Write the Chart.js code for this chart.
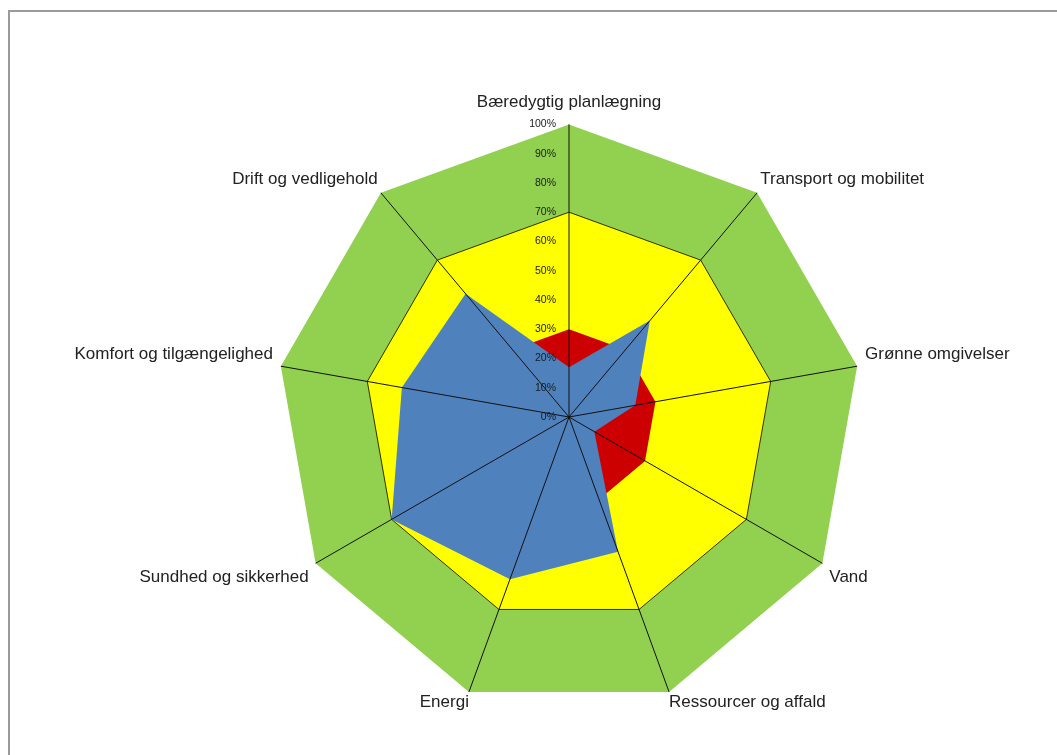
<!DOCTYPE html>
<html>
<head>
<meta charset="utf-8">
<script src="https://cdn.jsdelivr.net/npm/chart.js@4.4.0/dist/chart.umd.min.js"></script>
<style>
  html, body { margin: 0; padding: 0; background: #fff; overflow: hidden; width: 1057px; height: 755px; }
  #frame { position: absolute; left: 8px; top: 10px; width: 1200px; height: 900px; border: 2px solid #9a9a9a; box-sizing: border-box; }
  #wrap { position: absolute; left: 0; top: 0; width: 1138px; height: 755px; }
</style>
</head>
<body>
<div id="frame"></div>
<div id="wrap"><canvas id="c" width="1138" height="755"></canvas></div>
<script>
const categories = [
  "Bæredygtig planlægning",
  "Transport og mobilitet",
  "Grønne omgivelser",
  "Vand",
  "Ressourcer og affald",
  "Energi",
  "Sundhed og sikkerhed",
  "Komfort og tilgængelighed",
  "Drift og vedligehold"
];
const outerLevel = [100, 100, 100, 100, 100, 100, 100, 100, 100];
const middleLevel = [70, 70, 70, 70, 70, 70, 70, 70, 70];
const innerLevel = [30, 30, 30, 30, 30, 30, 30, 30, 30];
const scoreValues = [17, 43, 23, 10, 49, 59, 70, 58, 55];
const tickValues = [0, 10, 20, 30, 40, 50, 60, 70, 80, 90, 100];
const tickLabels = ["0%", "10%", "20%", "30%", "40%", "50%", "60%", "70%", "80%", "90%", "100%"];

const labelPadding = [12, 5, 8, 8, 0, 0, 8, 8, 5];

const tickPlugin = {
  id: 'leftTicks',
  afterDraw(chart) {
    const s = chart.scales.r;
    const ctx = chart.ctx;
    ctx.save();
    ctx.font = '10.5px "Liberation Sans", Arial, sans-serif';
    ctx.fillStyle = '#1a1a1a';
    ctx.textAlign = 'right';
    ctx.textBaseline = 'middle';
    tickValues.forEach((v, i) => {
      const d = s.getDistanceFromCenterForValue(v);
      ctx.fillText(tickLabels[i], s.xCenter - 13, s.yCenter - d);
    });
    ctx.restore();
  }
};

new Chart(document.getElementById('c'), {
  type: 'radar',
  data: {
    labels: categories,
    datasets: [
      { label: 'Grøn', data: outerLevel, order: 4, fill: 'origin', backgroundColor: '#92D050', borderColor: 'rgba(0,0,0,0)', borderWidth: 0, pointRadius: 0 },
      { label: 'Gul', data: middleLevel, order: 3, fill: 'origin', backgroundColor: '#FFFF00', borderColor: '#333300', borderWidth: 1, pointRadius: 0 },
      { label: 'Rød', data: innerLevel, order: 2, fill: 'origin', backgroundColor: '#CC0000', borderColor: 'rgba(0,0,0,0)', borderWidth: 0, pointRadius: 0 },
      { label: 'Score', data: scoreValues, order: 1, fill: 'origin', backgroundColor: '#4F81BD', borderColor: 'rgba(0,0,0,0)', borderWidth: 0, pointRadius: 0 }
    ]
  },
  options: {
    responsive: false,
    animation: false,
    devicePixelRatio: 1,
    layout: { padding: { top: 76, bottom: 28, left: 0, right: 0 } },
    elements: { line: { tension: 0 } },
    plugins: { legend: { display: false }, tooltip: { enabled: false } },
    scales: {
      r: {
        min: 0,
        max: 100,
        beginAtZero: true,
        ticks: { display: false, stepSize: 10 },
        grid: { display: false, z: 1 },
        angleLines: { display: true, color: '#111', lineWidth: 1 },
        pointLabels: {
          display: true,
          color: '#222',
          font: { family: '"Liberation Sans", Arial, sans-serif', size: 17 },
          padding: (ctx) => labelPadding[ctx.index]
        }
      }
    }
  },
  plugins: [tickPlugin]
});
</script>
</body>
</html>
